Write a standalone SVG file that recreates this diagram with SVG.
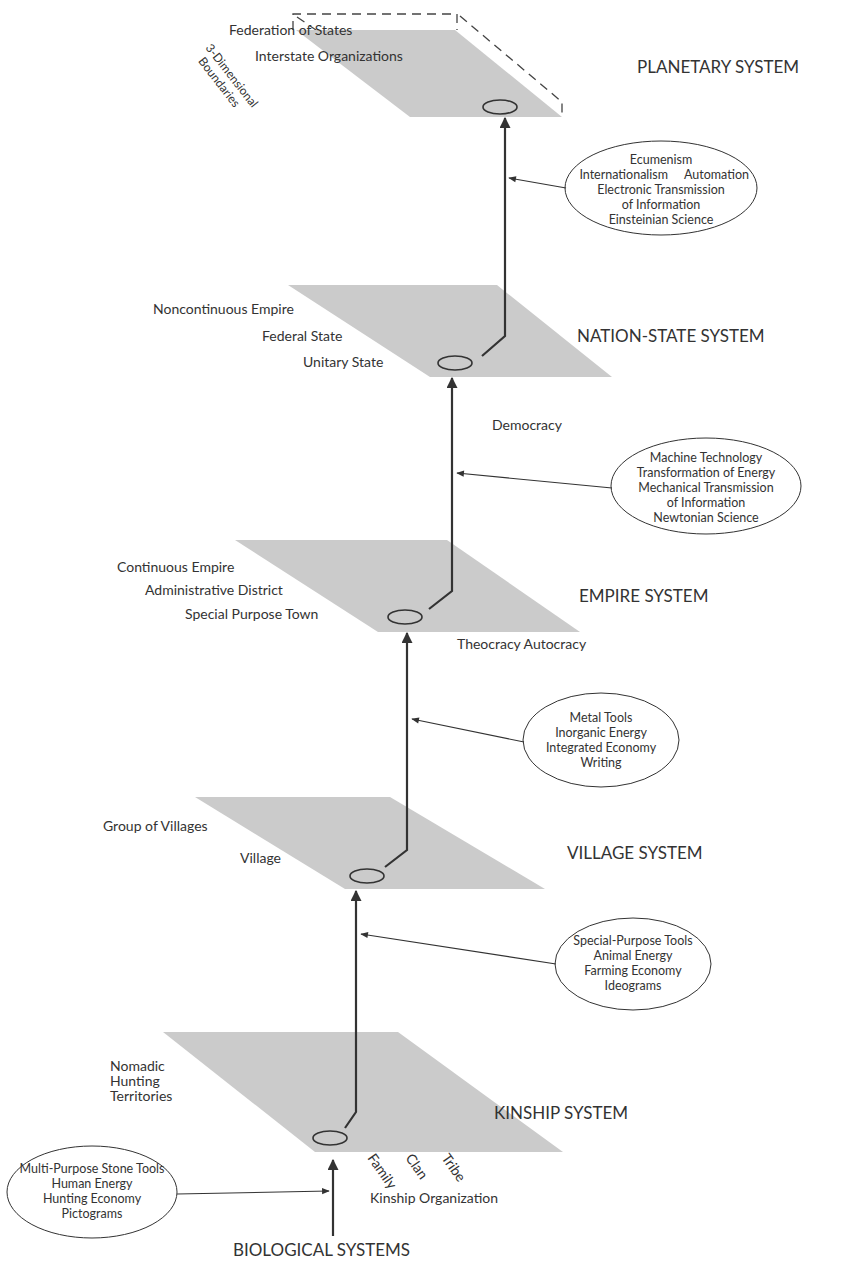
<svg xmlns="http://www.w3.org/2000/svg" width="856" height="1262" viewBox="0 0 856 1262">
<defs>
<marker id="ah" viewBox="0 0 10 10" refX="9" refY="5" markerWidth="5" markerHeight="5" orient="auto" markerUnits="strokeWidth"><path d="M0,0 L10,5 L0,10 z" fill="#333"/></marker>
<marker id="ahs" viewBox="0 0 10 10" refX="9" refY="5" markerWidth="10" markerHeight="7" orient="auto" markerUnits="strokeWidth"><path d="M0,1 L10,5 L0,9 z" fill="#333"/></marker>
</defs>
<style>
.plane{fill:#cbcbcb;stroke:none}
.ring{fill:none;stroke:#333;stroke-width:1.6}
.bub{fill:#fff;stroke:#333;stroke-width:1}
.lbl{font-family:Lato,"Liberation Sans",sans-serif;font-size:14px;fill:#333}
.rot{font-family:Lato,"Liberation Sans",sans-serif;font-size:12px;fill:#333}
.cap{font-family:Lato,"Liberation Sans",sans-serif;font-size:17px;fill:#333}
.bt{font-family:Lato,"Liberation Sans",sans-serif;font-size:12.5px;fill:#333;text-anchor:middle}
.main{fill:none;stroke:#333;stroke-width:2.2}
.side{fill:none;stroke:#333;stroke-width:1.1}
.dash{fill:none;stroke:#444;stroke-width:1.3;stroke-dasharray:9,6}
</style>
<rect width="856" height="1262" fill="#fff"/>

<g id="planetary">
<path class="dash" d="M293,30 L293,14 L457,14 L457,30"/>
<path class="dash" d="M297,17 L316,30"/>
<path class="dash" d="M460,16 L562,102 L562,118"/>
<polygon class="plane" points="296,30 455,30 562,117 410,117"/>
<ellipse class="ring" cx="500" cy="107" rx="17" ry="7"/>
<text class="lbl" x="229" y="35">Federation of States</text>
<text class="lbl" x="255" y="61">Interstate Organizations</text>
<text class="cap" x="637" y="73">PLANETARY SYSTEM</text>
<g transform="translate(205,48) rotate(52)">
<text class="rot" x="0" y="0">3-Dimensional</text>
<text class="rot" x="6" y="14">Boundaries</text>
</g>
</g>

<g id="nation-state">
<polygon class="plane" points="288,285 497,285 612,377 430,377"/>
<ellipse class="ring" cx="455" cy="363" rx="17" ry="7"/>
<text class="lbl" x="153" y="314">Noncontinuous Empire</text>
<text class="lbl" x="262" y="341">Federal State</text>
<text class="lbl" x="303" y="367">Unitary State</text>
<text class="cap" x="577" y="342">NATION-STATE SYSTEM</text>
</g>

<g id="empire">
<polygon class="plane" points="235,540 447,540 580,632 378,632"/>
<ellipse class="ring" cx="405" cy="617" rx="17" ry="7"/>
<text class="lbl" x="117" y="572">Continuous Empire</text>
<text class="lbl" x="145" y="595">Administrative District</text>
<text class="lbl" x="185" y="619">Special Purpose Town</text>
<text class="cap" x="579" y="602">EMPIRE SYSTEM</text>
</g>

<g id="village">
<polygon class="plane" points="195,797 390,797 545,889 345,889"/>
<ellipse class="ring" cx="367" cy="876" rx="17" ry="7"/>
<text class="lbl" x="103" y="831">Group of Villages</text>
<text class="lbl" x="240" y="863">Village</text>
<text class="cap" x="567" y="859">VILLAGE SYSTEM</text>
</g>

<g id="kinship">
<polygon class="plane" points="163,1032 398,1032 563,1152 315,1152"/>
<ellipse class="ring" cx="330" cy="1138" rx="17" ry="7"/>
<text class="lbl" x="110" y="1071">Nomadic</text>
<text class="lbl" x="110" y="1086">Hunting</text>
<text class="lbl" x="110" y="1101">Territories</text>
<text class="cap" x="494" y="1119">KINSHIP SYSTEM</text>
<text class="lbl" transform="translate(367,1158) rotate(55)">Family</text>
<text class="lbl" transform="translate(405,1158) rotate(55)">Clan</text>
<text class="lbl" transform="translate(441,1158) rotate(55)">Tribe</text>
<text class="lbl" x="370" y="1203">Kinship Organization</text>
</g>

<g id="biological">
<text class="cap" x="233" y="1256">BIOLOGICAL SYSTEMS</text>
</g>

<g id="tech-planetary">
<ellipse class="bub" cx="661" cy="188" rx="96" ry="47"/>
<text class="bt" x="661" y="164">Ecumenism</text>
<text class="bt" x="668" y="179" style="text-anchor:end">Internationalism</text>
<text class="bt" x="684" y="179" style="text-anchor:start">Automation</text>
<text class="bt" x="661" y="194">Electronic Transmission</text>
<text class="bt" x="661" y="209">of Information</text>
<text class="bt" x="661" y="224">Einsteinian Science</text>
</g>

<g id="tech-nation">
<ellipse class="bub" cx="706" cy="486" rx="95" ry="48"/>
<text class="bt" x="706" y="462">Machine Technology</text>
<text class="bt" x="706" y="477">Transformation of Energy</text>
<text class="bt" x="706" y="492">Mechanical Transmission</text>
<text class="bt" x="706" y="507">of Information</text>
<text class="bt" x="706" y="522">Newtonian Science</text>
</g>

<g id="tech-empire">
<ellipse class="bub" cx="601" cy="740" rx="78" ry="47"/>
<text class="bt" x="601" y="722">Metal Tools</text>
<text class="bt" x="601" y="737">Inorganic Energy</text>
<text class="bt" x="601" y="752">Integrated Economy</text>
<text class="bt" x="601" y="767">Writing</text>
</g>

<g id="tech-village">
<ellipse class="bub" cx="633" cy="964" rx="78" ry="46"/>
<text class="bt" x="633" y="945">Special-Purpose Tools</text>
<text class="bt" x="633" y="960">Animal Energy</text>
<text class="bt" x="633" y="975">Farming Economy</text>
<text class="bt" x="633" y="990">Ideograms</text>
</g>

<g id="tech-kinship">
<ellipse class="bub" cx="92" cy="1192" rx="85" ry="46"/>
<text class="bt" x="92" y="1173">Multi-Purpose Stone Tools</text>
<text class="bt" x="92" y="1188">Human Energy</text>
<text class="bt" x="92" y="1203">Hunting Economy</text>
<text class="bt" x="92" y="1218">Pictograms</text>
</g>

<text class="lbl" x="492" y="430">Democracy</text>
<text class="lbl" x="457" y="649">Theocracy Autocracy</text>

<g id="connectors">
<path class="main" marker-end="url(#ah)" d="M482,356 L505,336 L505,118"/>
<path class="main" marker-end="url(#ah)" d="M429,609 L452,591 L452,378"/>
<path class="main" marker-end="url(#ah)" d="M385,867 L407,850 L407,633"/>
<path class="main" marker-end="url(#ah)" d="M345,1128 L356,1112 L356,891"/>
<path class="main" marker-end="url(#ah)" d="M333,1236 L333,1160"/>
<path class="side" marker-end="url(#ahs)" d="M566,188 L509,178"/>
<path class="side" marker-end="url(#ahs)" d="M612,488 L457,473"/>
<path class="side" marker-end="url(#ahs)" d="M524,742 L412,719"/>
<path class="side" marker-end="url(#ahs)" d="M556,964 L361,934"/>
<path class="side" marker-end="url(#ahs)" d="M177,1194 L329,1191"/>
</g>
</svg>
